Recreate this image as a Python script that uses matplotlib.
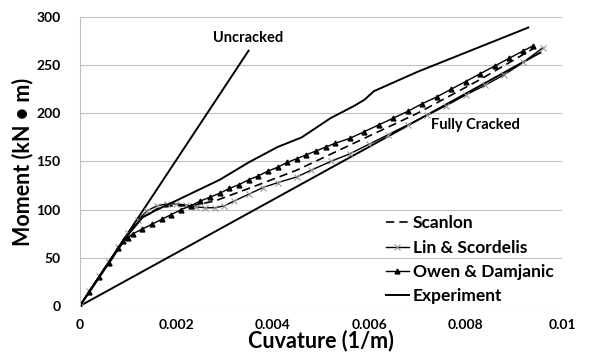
import matplotlib
matplotlib.use("Agg")
import matplotlib.pyplot as plt

plt.rcParams['font.family'] = ['Lato', 'DejaVu Sans']
plt.rcParams['font.weight'] = 'bold'

# Curvature (1/m) vs moment (kN*m)
uncr_x = [0.0, 0.0035]
uncr_y = [0, 265]

fc_x = [0.0, 0.00955]
fc_y = [0, 263]

exp_x = [0.0, 0.0005, 0.001, 0.0013, 0.0016, 0.0019, 0.0029, 0.0035, 0.0041,
         0.0046, 0.0052, 0.0057, 0.0059, 0.0061, 0.0070, 0.0080, 0.0093]
exp_y = [0, 37, 74, 92, 100, 107, 131, 149, 165,
         175, 195, 208, 214, 223, 243, 263, 289]

scan_x = [0.0, 0.0005, 0.001, 0.0013, 0.0016, 0.0019, 0.0023, 0.0028, 0.0035,
          0.0045, 0.0056, 0.0070, 0.0083, 0.0094]
scan_y = [0, 38, 74, 92, 101, 104, 104, 109, 122,
          141, 167, 200, 235, 267]

lin_x = [0.0, 0.0002, 0.0004, 0.0006, 0.0008, 0.001, 0.0012, 0.0014, 0.0016,
         0.0018, 0.002, 0.0022, 0.0024, 0.0026, 0.0028, 0.003, 0.0032, 0.0035,
         0.0038, 0.0041, 0.0045, 0.0048, 0.0052, 0.0056, 0.006, 0.0064, 0.0068,
         0.0072, 0.0076, 0.008, 0.0084, 0.0088, 0.0092, 0.0096]
lin_y = [0, 16, 31, 46, 61, 76, 89, 99, 104,
         106, 106, 105, 103, 102, 102, 104, 109, 116,
         123, 128, 134, 141, 150, 158, 168, 178, 188,
         198, 208, 219, 229, 240, 253, 268]

owen_x = [0.0, 0.0002, 0.0004, 0.0006, 0.0008, 0.0009, 0.001, 0.0011, 0.0013,
          0.0015, 0.0017, 0.0019, 0.0021, 0.0023, 0.0025, 0.0027, 0.0029, 0.0031,
          0.0033, 0.0035, 0.0037, 0.0039, 0.0041, 0.0043, 0.0045, 0.0047, 0.0049,
          0.0051, 0.0053, 0.0056, 0.0059, 0.0062, 0.0065, 0.0068, 0.0071, 0.0074,
          0.0077, 0.0080, 0.0083, 0.0086, 0.0089, 0.0092, 0.0094]
owen_y = [0, 15, 30, 45, 60, 67, 71, 75, 80,
          85, 90, 95, 100, 104, 109, 113, 117, 122,
          126, 131, 135, 140, 144, 149, 153, 157, 161,
          165, 169, 174, 181, 188, 195, 202, 210, 217,
          225, 233, 241, 249, 257, 265, 270]

fig = plt.figure(figsize=(5.91, 3.53), dpi=100)
ax = fig.add_axes([0.135, 0.133, 0.816, 0.819])

ax.plot(uncr_x, uncr_y, color='black', lw=1.4)
ax.plot(fc_x, fc_y, color='black', lw=1.4)
ax.plot(scan_x, scan_y, color='black', lw=1.2, ls=(0, (5, 3)), label='Scanlon')
ax.plot(lin_x, lin_y, color='black', lw=1.0, marker='x', ms=4, mec='#999999',
        mew=0.8, label='Lin & Scordelis')
ax.plot(owen_x, owen_y, color='black', lw=1.0, marker='^', ms=3.5, mfc='black',
        mec='black', label='Owen & Damjanic')
ax.plot(exp_x, exp_y, color='black', lw=1.4, label='Experiment')

ax.text(0.0035, 278, 'Uncracked', ha='center', va='center', fontsize=10.5,
        fontweight='bold')
ax.text(0.0082, 188, 'Fully Cracked', ha='center', va='center', fontsize=10.5,
        fontweight='bold')

ax.set_xlim(0, 0.01)
ax.set_ylim(0, 300)
ax.set_xticks([0, 0.002, 0.004, 0.006, 0.008, 0.01])
ax.set_xticklabels(['0', '0.002', '0.004', '0.006', '0.008', '0.01'])
ax.set_yticks(range(0, 301, 50))
ax.tick_params(length=0, labelsize=10)
ax.tick_params(axis='x', pad=9)
ax.tick_params(axis='y', pad=14)
for lab in ax.get_xticklabels() + ax.get_yticklabels():
    lab.set_fontweight('bold')

ax.yaxis.grid(True, color='#c0c0c0', lw=0.8)
ax.set_axisbelow(True)
for s in ['top', 'right', 'bottom']:
    ax.spines[s].set_visible(False)
ax.spines['left'].set_color('#c0c0c0')

ax.set_xlabel('Cuvature (1/m)', fontsize=15.5, fontweight='bold', labelpad=-1)
ax.set_ylabel('Moment (kN \u2022 m)', fontsize=15.5, fontweight='bold', labelpad=2)

leg = ax.legend(loc='upper left', bbox_to_anchor=(0.62, 0.338), frameon=False,
                fontsize=12.5, handlelength=1.35, handletextpad=0.2,
                labelspacing=0.48, borderaxespad=0)
for t in leg.get_texts():
    t.set_fontweight('bold')

fig.savefig('out.png', dpi=100)
